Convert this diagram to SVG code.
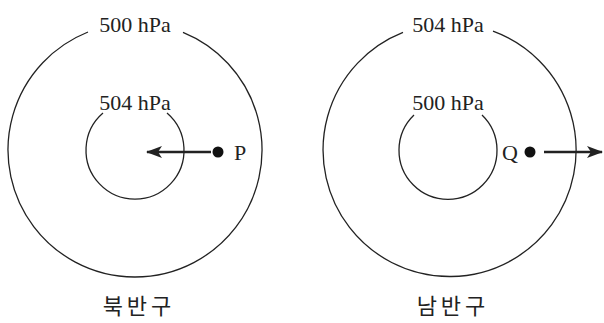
<svg xmlns="http://www.w3.org/2000/svg" width="604" height="323" viewBox="0 0 604 323">
<style>
.c{fill:none;stroke:#222;stroke-width:1.3}
.t{font-family:"Liberation Serif","Times New Roman",serif;font-size:22px;fill:#222;text-anchor:middle}
.k{font-family:"Noto Sans CJK KR",sans-serif;font-size:22px;fill:#222;text-anchor:middle;letter-spacing:4px}
.a{stroke:#222;stroke-width:2.4;fill:none}
</style>
<defs>
<marker id="ah" viewBox="0 0 16 12" refX="15" refY="6" markerWidth="16" markerHeight="12" markerUnits="userSpaceOnUse" orient="auto">
<path d="M0,0 L16,6 L0,12 L4,6 Z" fill="#222"/>
</marker>
</defs>
<g id="left-outer">
<path class="c" d="M183,32.4 A127,127 0 1 1 88,32"/>
<text class="t" x="135" y="32">500 hPa</text>
</g>
<g id="left-inner">
<path class="c" d="M167,113 A49,49 0 1 1 103,113"/>
<text class="t" x="135" y="110">504 hPa</text>
</g>
<g id="right-outer">
<path class="c" d="M493,31.2 A126.5,126.5 0 1 1 403,32.4"/>
<text class="t" x="448" y="32">504 hPa</text>
</g>
<g id="right-inner">
<path class="c" d="M482,115 A49,49 0 1 1 414,115"/>
<text class="t" x="448" y="110">500 hPa</text>
</g>
<g id="P">
<circle cx="218" cy="152" r="5.5" fill="#111"/>
<text class="t" x="240" y="160">P</text>
</g>
<g id="Q">
<circle cx="530" cy="152" r="5.5" fill="#111"/>
<text class="t" x="510" y="160">Q</text>
</g>
<g id="connectors">
<line class="a" x1="211" y1="152" x2="147" y2="152" marker-end="url(#ah)"/>
<line class="a" x1="544" y1="152" x2="602" y2="152" marker-end="url(#ah)"/>
</g>
<g id="labels">
<text class="k" x="139" y="314">북반구</text>
<text class="k" x="453" y="314">남반구</text>
</g>
</svg>
